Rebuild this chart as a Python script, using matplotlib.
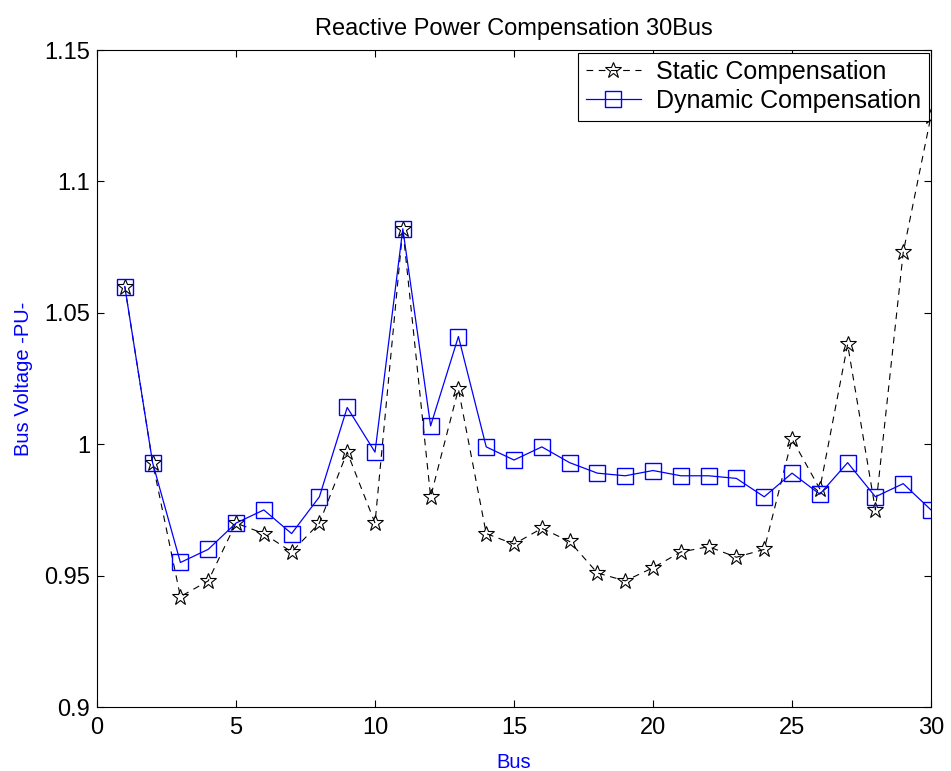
import numpy as np
import matplotlib
matplotlib.use('Agg')
import matplotlib.pyplot as plt

plt.rcParams['font.family'] = ['Liberation Sans', 'DejaVu Sans']

bus = np.arange(1, 31)
static_v = [1.060, 0.993, 0.942, 0.948, 0.970, 0.966, 0.959, 0.970, 0.997, 0.970,
            1.082, 0.980, 1.021, 0.966, 0.962, 0.968, 0.963, 0.951, 0.948, 0.953,
            0.959, 0.961, 0.957, 0.960, 1.002, 0.983, 1.038, 0.975, 1.073, 1.125]
dynamic_v = [1.060, 0.993, 0.955, 0.960, 0.970, 0.975, 0.966, 0.980, 1.014, 0.997,
             1.082, 1.007, 1.041, 0.999, 0.994, 0.999, 0.993, 0.989, 0.988, 0.990,
             0.988, 0.988, 0.987, 0.980, 0.989, 0.981, 0.993, 0.980, 0.985, 0.975]

fig = plt.figure(figsize=(9.51, 7.71), dpi=100)
ax = fig.add_axes([0.102, 0.083, 0.877, 0.852])

ax.plot(bus, static_v, color='black', linestyle='--', dashes=(6, 5), linewidth=0.8,
        marker='*', markersize=12, markerfacecolor='none', markeredgecolor='black',
        markeredgewidth=0.8, label='Static Compensation')
ax.plot(bus, dynamic_v, color='blue', linestyle='-', linewidth=0.9,
        marker='s', markersize=12, markerfacecolor='none', markeredgecolor='blue',
        markeredgewidth=1.0, label='Dynamic Compensation')

ax.set_xlim(0, 30)
ax.set_ylim(0.9, 1.15)
ax.set_xticks([0, 5, 10, 15, 20, 25, 30])
ax.set_yticks([0.9, 0.95, 1.0, 1.05, 1.1, 1.15])
ax.set_yticklabels(['0.9', '0.95', '1', '1.05', '1.1', '1.15'])
ax.tick_params(direction='in', top=True, right=True, labelsize=17, length=5)
ax.tick_params(axis='x', pad=7)
ax.tick_params(axis='y', pad=5)
ax.set_title('Reactive Power Compensation 30Bus', fontsize=17, pad=11)
ax.set_xlabel('Bus', color='blue', fontsize=14.5, labelpad=10)
ax.set_ylabel('Bus Voltage -PU-', color='blue', fontsize=14.5, labelpad=8)

leg = ax.legend(loc='upper right', fontsize=18, fancybox=False, framealpha=1,
                edgecolor='black', borderaxespad=0.1, handlelength=2.2,
                labelspacing=0.2, borderpad=0.3, handletextpad=0.6)
leg.get_frame().set_linewidth(0.8)

fig.savefig('out.png', dpi=100)
